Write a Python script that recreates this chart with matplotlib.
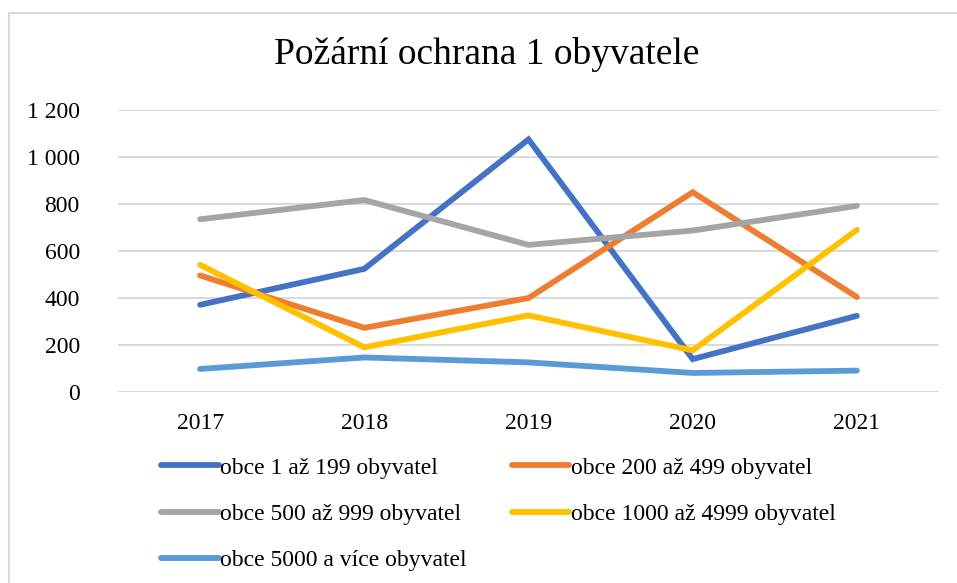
import numpy as np
import matplotlib
matplotlib.use('Agg')
from matplotlib import pyplot as plt
from matplotlib.patches import Rectangle
from matplotlib.ticker import FuncFormatter

years = ['2017', '2018', '2019', '2020', '2021']
labels = ['obce 1 až 199 obyvatel', 'obce 200 až 499 obyvatel',
          'obce 500 až 999 obyvatel', 'obce 1000 až 4999 obyvatel',
          'obce 5000 a více obyvatel']
obce_1_199 = [371, 524, 1075, 140, 324]
obce_200_499 = [496, 273, 400, 850, 404]
obce_500_999 = [735, 817, 626, 687, 792]
obce_1000_4999 = [541, 190, 326, 177, 690]
obce_5000 = [98, 147, 126, 81, 91]
series = [obce_1_199, obce_200_499, obce_500_999, obce_1000_4999, obce_5000]
colors = ['#4472C4', '#ED7D31', '#A5A5A5', '#FFC000', '#5B9BD5']

plt.rcParams['font.family'] = ['Liberation Serif', 'DejaVu Serif']

W, H = 957, 583
fig = plt.figure(figsize=(W / 100, H / 100), dpi=100)
ax = fig.add_axes([118/W, (H - 392)/H, 821/W, 282/H])

x = np.arange(len(years))
handles = []
for vals, col, lab in zip(series, colors, labels):
    ln, = ax.plot(x, vals, color=col, lw=4.2, solid_capstyle='round',
                  solid_joinstyle='miter', label=lab)
    handles.append(ln)

ax.set_xlim(-0.5, len(years) - 0.5)
ax.set_ylim(0, 1200)
ax.set_yticks(np.arange(0, 1201, 200))
ax.yaxis.set_major_formatter(FuncFormatter(lambda v, p: f'{int(v):,}'.replace(',', ' ')))
ax.set_xticks(x)
ax.set_xticklabels(years)
ax.grid(axis='y', color='#D9D9D9', lw=1.4)
ax.set_axisbelow(True)
for s in ax.spines.values():
    s.set_visible(False)
ax.tick_params(length=0, labelsize=17)
ax.tick_params(axis='y', pad=27.5)
ax.tick_params(axis='x', pad=15)

fig.text(487/W, (H - 55)/H, 'Požární ochrana 1 obyvatele', ha='center', va='center', fontsize=27)

# legend filled row by row, two columns
order = [0, 2, 4, 1, 3]
leg = fig.legend([handles[i] for i in order], [labels[i] for i in order],
                 loc='upper left', bbox_to_anchor=(161/W, (H - 457)/H),
                 ncol=2, frameon=False, fontsize=17, handlelength=2.45,
                 handletextpad=0.05, columnspacing=1.9, labelspacing=1.05,
                 borderaxespad=0, borderpad=0)

# chart area frame
fig.patches.append(Rectangle((9/W, -0.05), 1.0, 1.05 - 13/H,
                             transform=fig.transFigure, fill=False,
                             edgecolor='#D9D9D9', lw=1.5))

fig.savefig('out.png', dpi=100)
